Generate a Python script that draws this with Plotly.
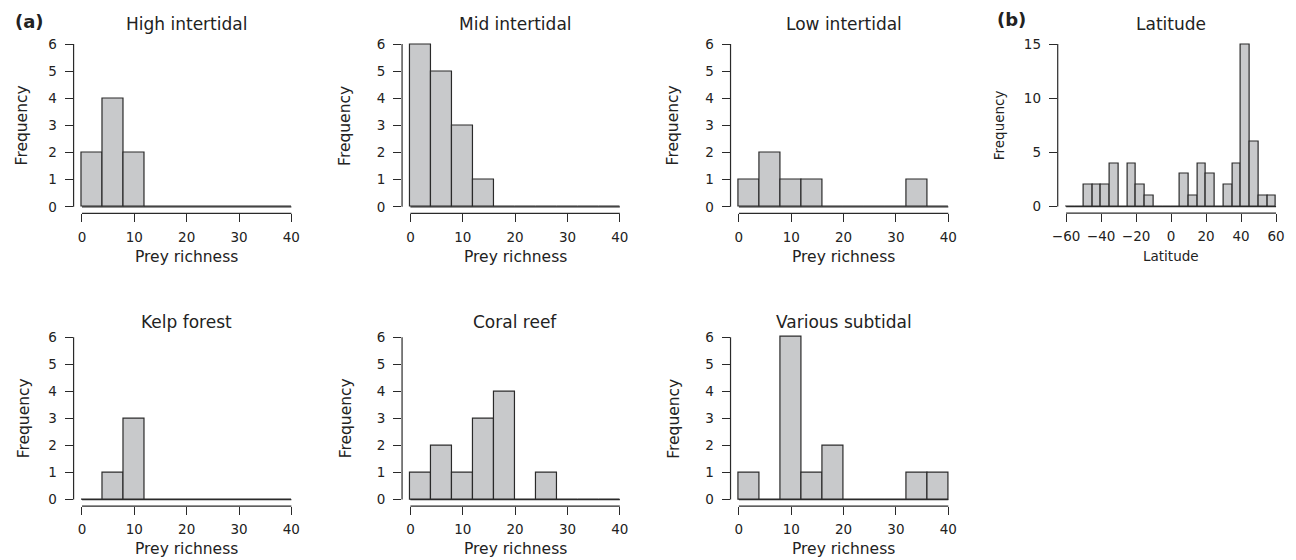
import plotly.graph_objects as go

W, H = 1296, 560

# ---------------- data ----------------
prey_bin_edges = [0, 4, 8, 12, 16, 20, 24, 28, 32, 36, 40]
high_intertidal = [2, 4, 2, 0, 0, 0, 0, 0, 0, 0]
mid_intertidal = [6, 5, 3, 1, 0, 0, 0, 0, 0, 0]
low_intertidal = [1, 2, 1, 1, 0, 0, 0, 0, 1, 0]
kelp_forest = [0, 1, 3, 0, 0, 0, 0, 0, 0, 0]
coral_reef = [1, 2, 1, 3, 4, 0, 1, 0, 0, 0]
various_subtidal = [1, 0, 6, 1, 2, 0, 0, 0, 1, 1]

latitude_bin_edges = [-60, -55, -50, -45, -40, -35, -30, -25, -20, -15, -10, -5,
                      0, 5, 10, 15, 20, 25, 30, 35, 40, 45, 50, 55, 60]
latitude_counts = [0, 0, 2, 2, 2, 4, 0, 4, 2, 1, 0, 0,
                   0, 3, 1, 4, 3, 0, 2, 4, 15, 6, 1, 1]

prey_xticks = [0, 10, 20, 30, 40]
prey_yticks = [0, 1, 2, 3, 4, 5, 6]
lat_xticks = [-60, -40, -20, 0, 20, 40, 60]
lat_yticks = [0, 5, 10, 15]

# ---------------- style ----------------
FILL = "#c8c9cb"
EDGE = "#2a2a2a"
TXT = "#222222"
FONT = "DejaVu Sans"
LW = 1.2

panels = [
    dict(title="High intertidal", counts=high_intertidal, edges=prey_bin_edges,
         xt=prey_xticks, yt=prey_yticks, xpx=(67.9, 295.1), ypx=(35.8, 212.5),
         xlab="Prey richness", ylab="Frequency", ylab_x=17, title_y=22, xlab_y=256,
         lab_size=15.5),
    dict(title="Mid intertidal", counts=mid_intertidal, edges=prey_bin_edges,
         xt=prey_xticks, yt=prey_yticks, xpx=(397.9, 625.1), ypx=(35.8, 212.5),
         xlab="Prey richness", ylab="Frequency", ylab_x=341, title_y=22, xlab_y=256,
         lab_size=15.5),
    dict(title="Low intertidal", counts=low_intertidal, edges=prey_bin_edges,
         xt=prey_xticks, yt=prey_yticks, xpx=(727.9, 955.1), ypx=(35.8, 212.5),
         xlab="Prey richness", ylab="Frequency", ylab_x=671, title_y=22, xlab_y=256,
         lab_size=15.5),
    dict(title="Latitude", counts=latitude_counts, edges=latitude_bin_edges,
         xt=lat_xticks, yt=lat_yticks, xpx=(1056.6, 1284.4), ypx=(35.8, 212.2),
         xlab="Latitude", ylab="Frequency", ylab_x=997.5, title_y=22.5, xlab_y=255.5,
         lab_size=13.5),
    dict(title="Kelp forest", counts=kelp_forest, edges=prey_bin_edges,
         xt=prey_xticks, yt=prey_yticks, xpx=(67.9, 295.1), ypx=(330.5, 506.8),
         xlab="Prey richness", ylab="Frequency", ylab_x=18, title_y=322, xlab_y=550,
         lab_size=15.5),
    dict(title="Coral reef", counts=coral_reef, edges=prey_bin_edges,
         xt=prey_xticks, yt=prey_yticks, xpx=(397.9, 625.1), ypx=(330.5, 506.8),
         xlab="Prey richness", ylab="Frequency", ylab_x=341.5, title_y=322, xlab_y=550,
         lab_size=15.5),
    dict(title="Various subtidal", counts=various_subtidal, edges=prey_bin_edges,
         xt=prey_xticks, yt=prey_yticks, xpx=(727.9, 955.1), ypx=(330.5, 506.8),
         xlab="Prey richness", ylab="Frequency", ylab_x=671.5, title_y=322, xlab_y=550,
         lab_size=15.5),
]

fig = go.Figure()
shapes = []
annotations = []
layout = {}

for i, p in enumerate(panels):
    k = "" if i == 0 else str(i + 1)
    xa, ya = "x" + k, "y" + k
    edges = p["edges"]
    centers = [(edges[j] + edges[j + 1]) / 2 for j in range(len(edges) - 1)]
    widths = [edges[j + 1] - edges[j] for j in range(len(edges) - 1)]

    # baseline (zero-height bins drawn as flat outline, as in R hist)
    fig.add_trace(go.Scatter(x=[edges[0], edges[-1]], y=[0, 0], mode="lines",
                             line=dict(color=EDGE, width=LW), hoverinfo="skip",
                             showlegend=False, xaxis=xa, yaxis=ya))
    fig.add_trace(go.Bar(x=centers, y=p["counts"], width=widths,
                         marker=dict(color=FILL, line=dict(color=EDGE, width=LW)),
                         showlegend=False, xaxis=xa, yaxis=ya))

    xlo, xhi = p["xt"][0], p["xt"][-1]
    ylo, yhi = p["yt"][0], p["yt"][-1]
    xpad = 0.04 * (xhi - xlo)
    ypad = 0.04 * (yhi - ylo)

    common = dict(showgrid=False, zeroline=False, showline=False, ticks="outside",
                  ticklen=8, tickwidth=LW, tickcolor=EDGE,
                  tickfont=dict(family=FONT, size=13.5, color=TXT))
    layout["xaxis" + k] = dict(common, domain=[p["xpx"][0] / W, p["xpx"][1] / W],
                               range=[xlo - xpad, xhi + xpad], tickvals=p["xt"],
                               anchor=ya, ticklabelstandoff=3, fixedrange=True)
    layout["yaxis" + k] = dict(common, domain=[1 - p["ypx"][1] / H, 1 - p["ypx"][0] / H],
                               range=[ylo - ypad, yhi + ypad], tickvals=p["yt"],
                               anchor=xa, ticklabelstandoff=5, fixedrange=True)

    # detached R-style axis lines spanning first..last tick
    shapes.append(dict(type="line", xref=xa, yref=ya + " domain", x0=xlo, x1=xhi,
                       y0=0, y1=0, line=dict(color=EDGE, width=LW)))
    shapes.append(dict(type="line", xref=xa + " domain", yref=ya, x0=0, x1=0,
                       y0=ylo, y1=yhi, line=dict(color=EDGE, width=LW)))

    # title
    annotations.append(dict(text=p["title"], xref=xa + " domain", x=0.5, yref="paper",
                            y=1 - p["title_y"] / H, xanchor="center", yanchor="middle",
                            showarrow=False, font=dict(family=FONT, size=17, color=TXT)))
    # x label
    annotations.append(dict(text=p["xlab"], xref=xa + " domain", x=0.5,
                            yref="paper", y=1 - p["xlab_y"] / H, xanchor="center",
                            yanchor="middle", showarrow=False,
                            font=dict(family=FONT, size=p["lab_size"], color=TXT)))
    # y label
    annotations.append(dict(text=p["ylab"], xref="paper", x=p["ylab_x"] / W,
                            yref=ya, y=(ylo + yhi) / 2, xanchor="center",
                            yanchor="middle", textangle=-90, showarrow=False,
                            font=dict(family=FONT, size=p["lab_size"], color=TXT)))

annotations.append(dict(text="<b>(a)</b>", xref="paper", yref="paper", x=23.5 / W,
                        y=1 - 20 / H, xanchor="center", yanchor="middle", showarrow=False,
                        font=dict(family=FONT, size=18, color=TXT)))
annotations.append(dict(text="<b>(b)</b>", xref="paper", yref="paper", x=1010 / W,
                        y=1 - 18 / H, xanchor="center", yanchor="middle", showarrow=False,
                        font=dict(family=FONT, size=18, color=TXT)))

fig.update_layout(width=W, height=H, margin=dict(l=0, r=0, t=0, b=0),
                  paper_bgcolor="white", plot_bgcolor="white", bargap=0,
                  shapes=shapes, annotations=annotations, **layout)

fig.write_html("out.html", config={"displayModeBar": False},
               post_script="document.body.style.margin='0';document.body.style.padding='0';")
